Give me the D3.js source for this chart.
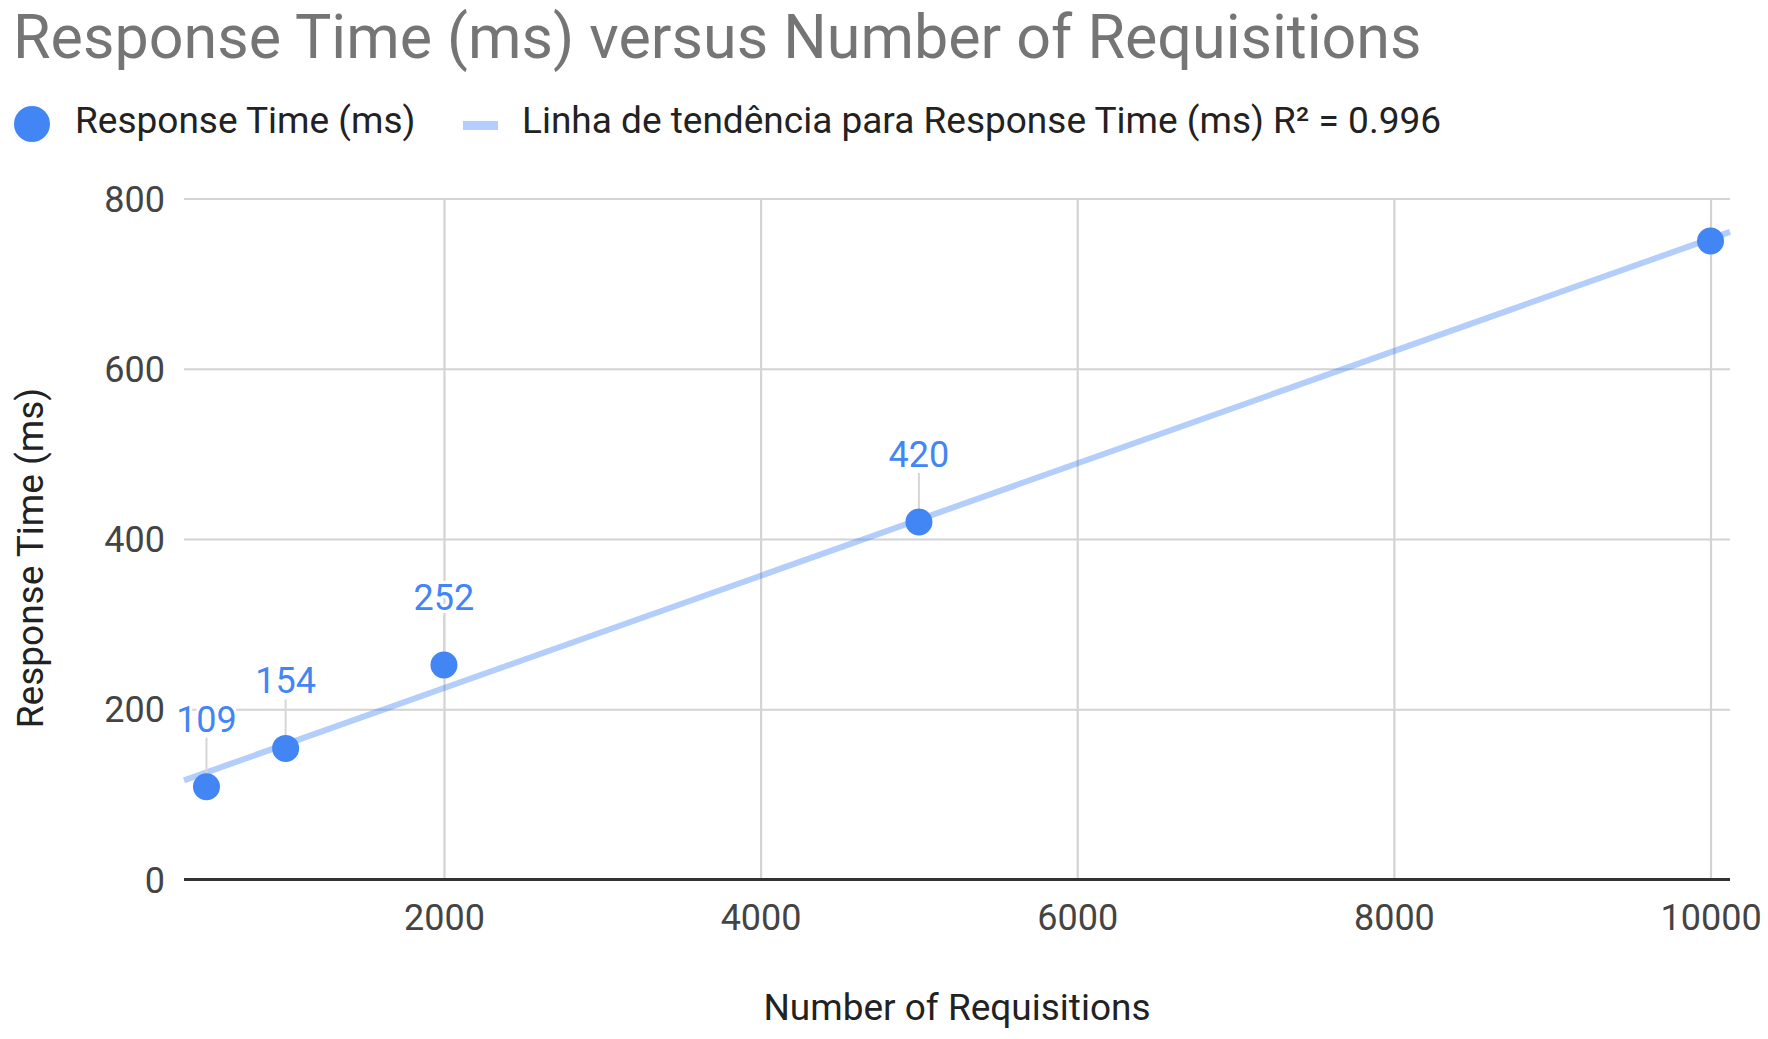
<!DOCTYPE html>
<html>
<head>
<meta charset="utf-8">
<script src="https://cdn.jsdelivr.net/npm/d3@7"></script>
<style>
  html, body { margin: 0; padding: 0; background: #fff; }
  svg { display: block; font-family: Roboto, "Liberation Sans", Arial, sans-serif; }
</style>
</head>
<body>
<svg id="chart" width="1768" height="1039"></svg>
<script>
// ---- data ----
const requisitions = [500, 1000, 2000, 5000, 10000];
const responseTimes = [109, 154, 252, 420, 750];
const xTicks = [2000, 4000, 6000, 8000, 10000];
const yTicks = [0, 200, 400, 600, 800];
const xDomain = [358, 10123];
const yDomain = [0, 800];
const chartTitle = "Response Time (ms) versus Number of Requisitions";
const seriesName = "Response Time (ms)";
const trendName = "Linha de tendência para Response Time (ms) R² = 0.996";
const xTitle = "Number of Requisitions";
const yTitle = "Response Time (ms)";

// ---- layout ----
const W = 1768, H = 1039;
const plot = { left: 184, right: 1730, top: 198.5, bottom: 879.5 };
const blue = "#4285f4";

const svg = d3.select("#chart");
const x = d3.scaleLinear().domain(xDomain).range([plot.left, plot.right]);
const y = d3.scaleLinear().domain(yDomain).range([plot.bottom, plot.top]);

// title
svg.append("text").attr("x", 13).attr("y", 58)
  .attr("font-size", 61).attr("fill", "#757575").text(chartTitle);

// legend
const lg = svg.append("g");
lg.append("circle").attr("cx", 32).attr("cy", 124).attr("r", 18).attr("fill", blue);
lg.append("text").attr("x", 75).attr("y", 133).attr("font-size", 37).attr("fill", "#222").text(seriesName);
lg.append("rect").attr("x", 463).attr("y", 121).attr("width", 35).attr("height", 9)
  .attr("fill", blue).attr("opacity", 0.4);
lg.append("text").attr("x", 522).attr("y", 133).attr("font-size", 37).attr("fill", "#222").text(trendName);

// gridlines via axes
const yGrid = d3.axisLeft(y).tickValues(yTicks.filter(d => d !== 0))
  .tickSize(-(plot.right - plot.left)).tickFormat("");
svg.append("g").attr("transform", `translate(${plot.left},0)`).call(yGrid)
  .call(g => g.select(".domain").remove())
  .call(g => g.selectAll("line").attr("stroke", "#d3d3d3").attr("stroke-width", 2.2));

const xGrid = d3.axisBottom(x).tickValues(xTicks)
  .tickSize(-(plot.bottom - plot.top)).tickFormat("");
svg.append("g").attr("transform", `translate(0,${plot.bottom})`).call(xGrid)
  .call(g => g.select(".domain").remove())
  .call(g => g.selectAll("line").attr("stroke", "#d3d3d3").attr("stroke-width", 2.2));

// tick labels
const yAxis = d3.axisLeft(y).tickValues(yTicks).tickSize(0).tickPadding(0).tickFormat(d3.format("d"));
svg.append("g").attr("transform", `translate(${plot.left - 19},0)`).call(yAxis)
  .call(g => g.select(".domain").remove())
  .call(g => g.selectAll("text").attr("font-size", 36).attr("fill", "#444")
    .attr("font-family", "Roboto, sans-serif").attr("dy", "0.35em"));

const xAxis = d3.axisBottom(x).tickValues(xTicks).tickSize(0).tickPadding(0).tickFormat(d3.format("d"));
svg.append("g").attr("transform", `translate(0,${plot.bottom})`).call(xAxis)
  .call(g => g.select(".domain").remove())
  .call(g => g.selectAll("text").attr("font-size", 36).attr("fill", "#444")
    .attr("font-family", "Roboto, sans-serif").attr("dy", null).attr("y", 50));

// baseline
svg.append("line").attr("x1", plot.left).attr("x2", plot.right)
  .attr("y1", y(0)).attr("y2", y(0)).attr("stroke", "#333").attr("stroke-width", 3);

// axis titles
svg.append("text").attr("x", x((xDomain[0] + xDomain[1]) / 2)).attr("y", 1020)
  .attr("text-anchor", "middle").attr("font-size", 37).attr("fill", "#222").text(xTitle);
svg.append("text").attr("transform", "translate(43,558) rotate(-90)")
  .attr("text-anchor", "middle").attr("font-size", 37).attr("fill", "#222").text(yTitle);

// trendline (least squares from data)
const mx = d3.mean(requisitions), my = d3.mean(responseTimes);
let sxy = 0, sxx = 0;
requisitions.forEach((v, i) => { sxy += (v - mx) * (responseTimes[i] - my); sxx += (v - mx) ** 2; });
const slope = sxy / sxx, intercept = my - slope * mx;
const trendPts = xDomain.map(v => [v, intercept + slope * v]);
svg.append("path").datum(trendPts)
  .attr("d", d3.line().x(d => x(d[0])).y(d => y(d[1])))
  .attr("fill", "none").attr("stroke", blue).attr("stroke-opacity", 0.4).attr("stroke-width", 6);

// data labels with leader lines
const pts = requisitions.map((v, i) => ({ x: v, y: responseTimes[i] }));
const labelled = pts.filter(d => d.y !== 750);
svg.append("g").selectAll("line").data(labelled).join("line")
  .attr("x1", d => x(d.x)).attr("x2", d => x(d.x))
  .attr("y1", d => y(d.y) - 49).attr("y2", d => y(d.y))
  .attr("stroke", "#d6d6d6").attr("stroke-width", 2);
svg.append("g").selectAll("text").data(labelled).join("text")
  .attr("x", d => x(d.x)).attr("y", d => y(d.y) - 55)
  .attr("text-anchor", "middle").attr("font-size", 36).attr("fill", blue)
  .attr("stroke", "#fff").attr("stroke-width", 6).attr("paint-order", "stroke")
  .text(d => d.y);

// points
svg.append("g").selectAll("circle").data(pts).join("circle")
  .attr("cx", d => x(d.x)).attr("cy", d => y(d.y)).attr("r", 13.5).attr("fill", blue);
</script>
</body>
</html>
